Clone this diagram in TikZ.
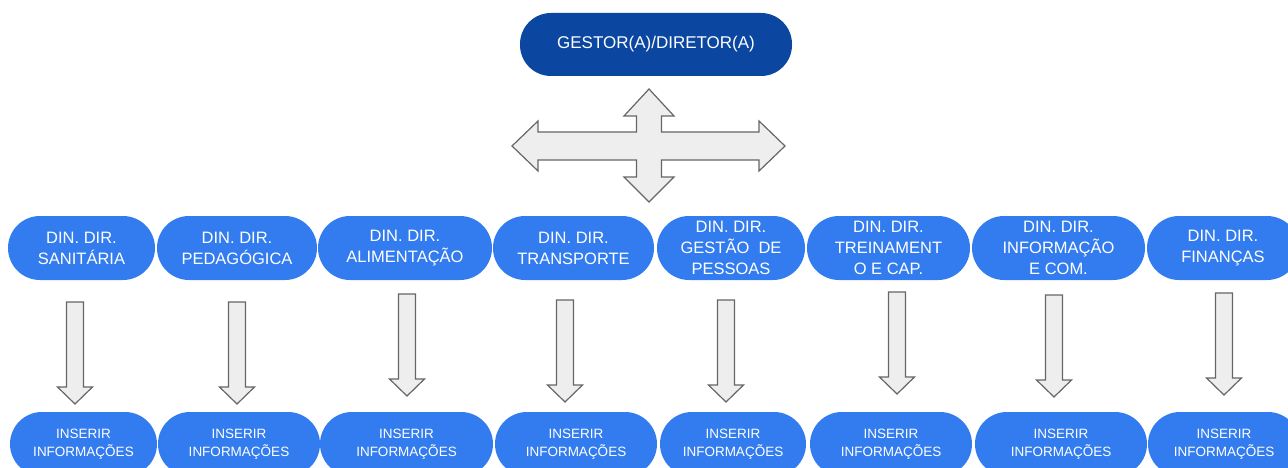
\documentclass[tikz,border=0pt]{standalone}
\usepackage{fontspec}
\setmainfont{Liberation Sans}
\usepackage{tikz}
\usetikzlibrary{positioning}
\definecolor{darkBlue}{RGB}{11,71,161}
\definecolor{midBlue}{RGB}{50,124,240}
\definecolor{arrowFill}{RGB}{238,238,238}
\definecolor{arrowLine}{RGB}{102,102,102}
\tikzset{
    chefBox/.style={fill=darkBlue, text=white, rounded corners=31pt,
        minimum height=63pt, minimum width=272pt, inner sep=0pt,
        font=\fontsize{17}{21}\selectfont},
    dinBox/.style={fill=midBlue, text=white, rounded corners=32pt,
        minimum height=64pt, inner sep=0pt, align=center,
        font=\fontsize{16.5}{21}\selectfont},
    infoBox/.style={fill=midBlue, text=white, rounded corners=32pt,
        minimum height=64pt, inner sep=0pt, align=center,
        font=\fontsize{13.5}{18}\selectfont}
}
\tikzset{
    downArrow/.pic={
		\filldraw[fill=arrowFill, draw=arrowLine, line width=1.2pt, line join=miter]
		  (-8.5,0) -- (8.5,0) -- (8.5,85) -- (17.5,85) -- (0,102)
		  -- (-17.5,85) -- (-8.5,85) -- cycle;
	}
}
\tikzset{
    crossArrow/.pic={
		\filldraw[fill=arrowFill, draw=arrowLine, line width=1.2pt, line join=miter]
		  (0,-57) -- (25,-30) -- (12.5,-30) -- (12.5,-14) -- (110,-14) -- (110,-25)
		  -- (136,0) -- (110,25) -- (110,14) -- (12.5,14) -- (12.5,31) -- (25,31)
		  -- (0,56) -- (-25,31) -- (-12.5,31) -- (-12.5,14) -- (-111,14) -- (-111,25)
		  -- (-137,0) -- (-111,-25) -- (-111,-14) -- (-12.5,-14) -- (-12.5,-30)
		  -- (-25,-30) -- cycle;
	}
}
\begin{document}
\begin{tikzpicture}[x=1pt, y=-1pt]
        \useasboundingbox (0,0) rectangle (1288,468);
        \clip (0,0) rectangle (1288,468);
        \node[chefBox] (dirTop) at (656,44.5) {GESTOR(A)/DIRETOR(A)};
        \pic at (649,146) {crossArrow};
        % diretorias
        \node[dinBox, minimum width=147pt] (din1) at (81.5,248) {DIN. DIR.\\SANITÁRIA};
        \node[dinBox, minimum width=160pt] (din2) at (237,248) {DIN. DIR.\\PEDAGÓGICA};
        \node[dinBox, minimum width=174pt] (din3) at (405,248) {DIN. DIR.\\ALIMENTAÇÃO};
        \node[dinBox, minimum width=161pt] (din4) at (573.5,248) {DIN. DIR.\\TRANSPORTE};
        \node[dinBox, minimum width=148pt] (din5) at (731,248) {DIN. DIR.\\GESTÃO~~DE\\PESSOAS};
        \node[dinBox, minimum width=163pt] (din6) at (888.5,248) {DIN. DIR.\\TREINAMENT\\O E CAP.};
        \node[dinBox, minimum width=173pt] (din7) at (1058.5,248) {DIN. DIR.\\INFORMAÇÃO\\E COM.};
        \node[dinBox, minimum width=152pt] (din8) at (1223,248) {DIN. DIR.\\FINANÇAS};
        \pic at (75,302) {downArrow};
        \pic at (237,302) {downArrow};
        \pic at (407,294) {downArrow};
        \pic at (565,300) {downArrow};
        \pic at (726,300) {downArrow};
        \pic at (897,292) {downArrow};
        \pic at (1054,295) {downArrow};
        \pic at (1224,293) {downArrow};
        % informacoes
        \node[infoBox, minimum width=147pt] (info1) at (83.5,444) {INSERIR\\INFORMAÇÕES};
        \node[infoBox, minimum width=162pt] (info2) at (239,444) {INSERIR\\INFORMAÇÕES};
        \node[infoBox, minimum width=173pt] (info3) at (406.5,444) {INSERIR\\INFORMAÇÕES};
        \node[infoBox, minimum width=162pt] (info4) at (576,444) {INSERIR\\INFORMAÇÕES};
        \node[infoBox, minimum width=146pt] (info5) at (733,444) {INSERIR\\INFORMAÇÕES};
        \node[infoBox, minimum width=162pt] (info6) at (891,444) {INSERIR\\INFORMAÇÕES};
        \node[infoBox, minimum width=172pt] (info7) at (1061,444) {INSERIR\\INFORMAÇÕES};
        \node[infoBox, minimum width=152pt] (info8) at (1224,444) {INSERIR\\INFORMAÇÕES};
\end{tikzpicture}
\end{document}
